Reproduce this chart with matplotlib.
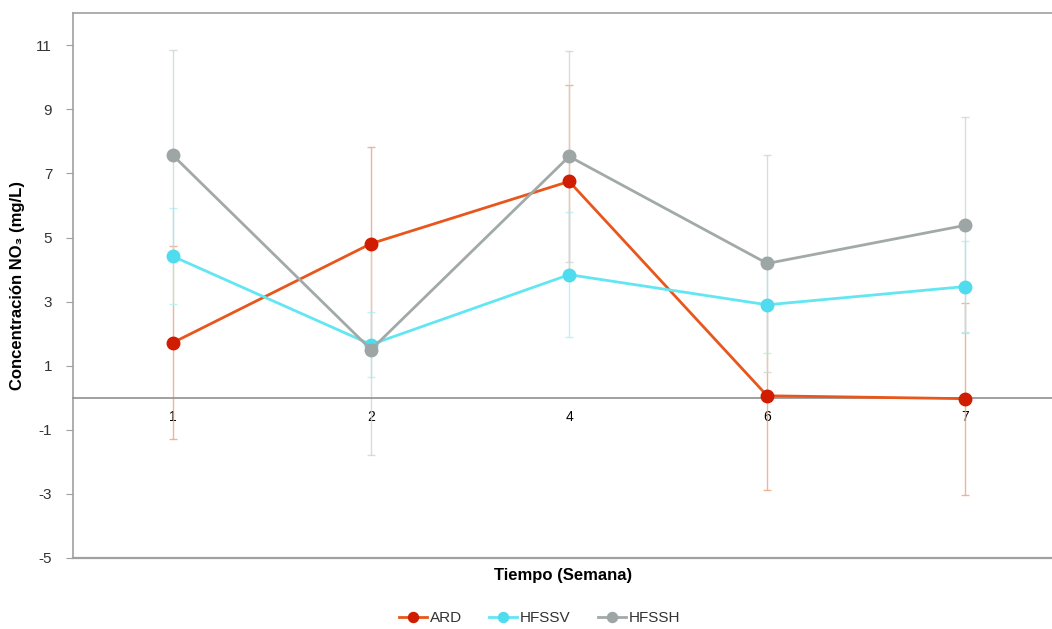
import matplotlib
matplotlib.use("Agg")
import matplotlib.pyplot as plt
import numpy as np

weeks = ["1", "2", "4", "6", "7"]
ard = [1.72, 4.81, 6.75, 0.06, -0.03]
ard_err = [3.0, 3.03, 3.0, 2.94, 3.0]
hfssv = [4.41, 1.66, 3.84, 2.90, 3.47]
hfssv_err = [1.5, 1.0, 1.95, 1.5, 1.41]
hfssh = [7.56, 1.50, 7.53, 4.19, 5.38]
hfssh_err = [3.3, 3.3, 3.3, 3.4, 3.37]
yticks = [-5, -3, -1, 1, 3, 5, 7, 9, 11]

plt.rcParams['font.family'] = ['Liberation Sans', 'DejaVu Sans']

fig = plt.figure(figsize=(10.52, 6.29), dpi=100)
ax = fig.add_axes([0.0694, 0.113, 0.931, 0.866])
x = np.arange(len(weeks))

series = [
    ("ARD", ard, ard_err, "#e8561c", "#d01c00", "#f0a080"),
    ("HFSSV", hfssv, hfssv_err, "#62e6f2", "#4fdcef", "#b0f0f7"),
    ("HFSSH", hfssh, hfssh_err, "#a2a9a9", "#9da5a5", "#d0d4d4"),
]
for name, vals, errs, lc, mc, ec in series:
    ax.errorbar(x, vals, yerr=errs, fmt='none', ecolor=ec, elinewidth=1.0,
                capsize=3, capthick=1.0, alpha=0.8, zorder=2)
for name, vals, errs, lc, mc, ec in series:
    ax.plot(x, vals, color=lc, lw=2.0, marker='o', markersize=9,
            markerfacecolor=mc, markeredgecolor=mc, label=name, zorder=3)

ax.set_xlim(-0.505, 4.44)
ax.set_ylim(-5, 12)
ax.set_yticks(yticks)
ax.set_yticklabels([str(v) for v in yticks], fontsize=11, color="#333333")
ax.set_xticks(x)
ax.set_xticklabels(weeks, fontsize=11, color="#333333")

for s in ['left', 'top']:
    ax.spines[s].set_color('#a0a0a0')
    ax.spines[s].set_linewidth(1.2)
ax.spines['right'].set_visible(False)
ax.spines['bottom'].set_position(('data', 0))
ax.spines['bottom'].set_color('#909090')
ax.spines['bottom'].set_linewidth(1.2)
ax.axhline(-5, color='#a0a0a0', lw=1.6, clip_on=False, zorder=1)

ax.tick_params(axis='y', length=5, color='#a0a0a0', pad=10)
ax.tick_params(axis='x', length=0, pad=9)

ax.set_ylabel("Concentración NO₃ (mg/L)", fontsize=12, fontweight='bold', labelpad=8)
fig.text(0.535, 0.085, "Tiempo (Semana)", ha='center', va='center',
         fontsize=12, fontweight='bold')

leg = fig.legend(loc='center', bbox_to_anchor=(0.513, 0.017), ncol=3, frameon=False,
                 fontsize=11, handlelength=1.8, columnspacing=1.8, handletextpad=0.2,
                 markerscale=0.8)
for t in leg.get_texts():
    t.set_color('#333333')

fig.savefig("out.png", dpi=100)
